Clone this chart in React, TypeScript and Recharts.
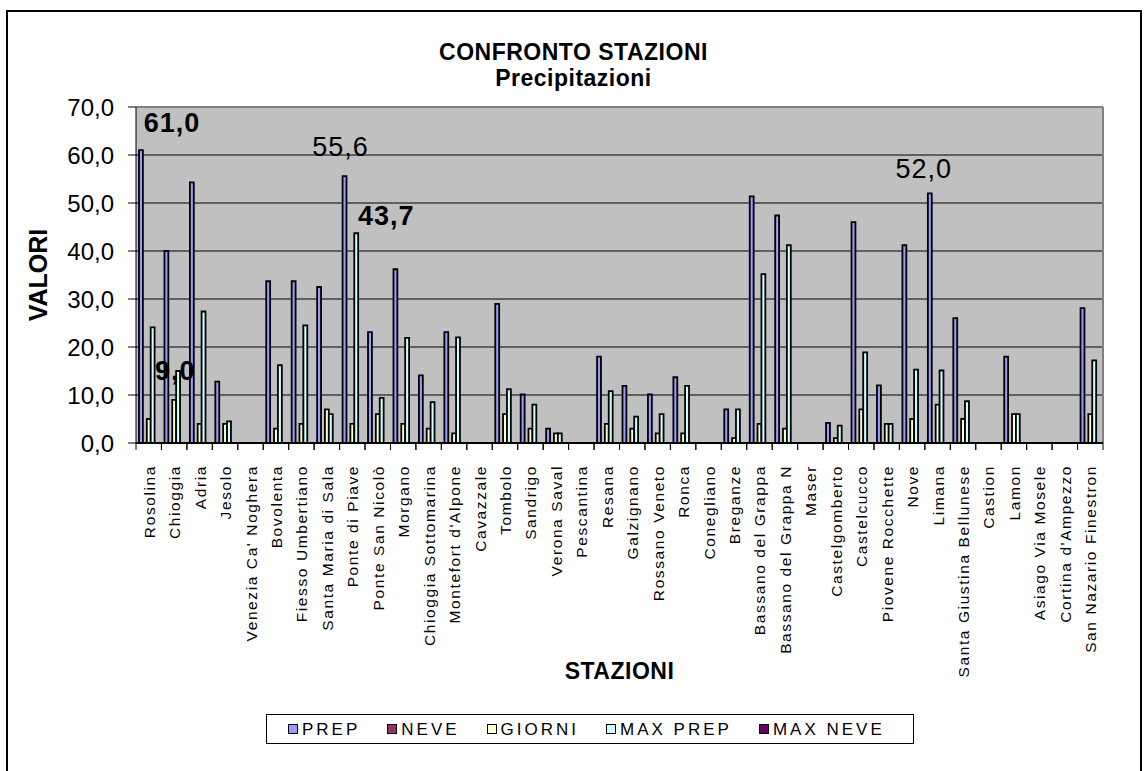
import {
  Bar,
  BarChart,
  CartesianGrid,
  Label,
  LabelList,
  Legend,
  ReferenceLine,
  XAxis,
  YAxis,
} from "recharts";

const stations = [
  "Rosolina",
  "Chioggia",
  "Adria",
  "Jesolo",
  "Venezia Ca' Noghera",
  "Bovolenta",
  "Fiesso Umbertiano",
  "Santa Maria di Sala",
  "Ponte di Piave",
  "Ponte San Nicolò",
  "Morgano",
  "Chioggia Sottomarina",
  "Montefort d'Alpone",
  "Cavazzale",
  "Tombolo",
  "Sandrigo",
  "Verona Saval",
  "Pescantina",
  "Resana",
  "Galzignano",
  "Rossano Veneto",
  "Ronca",
  "Conegliano",
  "Breganze",
  "Bassano del Grappa",
  "Bassano del Grappa N",
  "Maser",
  "Castelgomberto",
  "Castelcucco",
  "Piovene Rocchette",
  "Nove",
  "Limana",
  "Santa Giustina Bellunese",
  "Castion",
  "Lamon",
  "Asiago Via Mosele",
  "Cortina d'Ampezzo",
  "San Nazario Finestron",
];

const prep = [
  61.0, 40.0, 54.3, 12.8, 0, 33.7, 33.7, 32.5, 55.6, 23.1, 36.2, 14.1, 23.1, 0,
  29.0, 10.1, 3.0, 0, 18.0, 11.9, 10.1, 13.7, 0, 7.0, 51.4, 47.4, 0, 4.2, 46.0,
  12.0, 41.2, 52.0, 26.0, 0, 18.0, 0, 0, 28.1,
];
const neve = [
  0, 0, 0, 0, 0, 0, 0, 0, 0, 0, 0, 0, 0, 0, 0, 0, 0, 0, 0, 0, 0, 0, 0, 0, 0, 0,
  0, 0, 0, 0, 0, 0, 0, 0, 0, 0, 0, 0,
];
const giorni = [
  5, 9, 4, 4, 0, 3, 4, 7, 4, 6, 4, 3, 2, 0, 6, 3, 2, 0, 4, 3, 2, 2, 0, 1, 4, 3,
  0, 1, 7, 4, 5, 8, 5, 0, 6, 0, 0, 6,
];
const maxPrep = [
  24.1, 15.0, 27.4, 4.5, 0, 16.2, 24.5, 6.0, 43.7, 9.4, 21.9, 8.5, 22.0, 0, 11.2,
  8.0, 2.0, 0, 10.8, 5.5, 6.0, 11.9, 0, 7.0, 35.2, 41.2, 0, 3.6, 18.9, 4.0, 15.3,
  15.1, 8.7, 0, 6.0, 0, 0, 17.2,
];
const maxNeve = [
  0, 0, 0, 0, 0, 0, 0, 0, 0, 0, 0, 0, 0, 0, 0, 0, 0, 0, 0, 0, 0, 0, 0, 0, 0, 0,
  0, 0, 0, 0, 0, 0, 0, 0, 0, 0, 0, 0,
];
const yTicks = [0, 10, 20, 30, 40, 50, 60, 70];

const series = [
  { key: "PREP", values: prep, color: "#9999FF" },
  { key: "NEVE", values: neve, color: "#993366" },
  { key: "GIORNI", values: giorni, color: "#FFFFCC" },
  { key: "MAX PREP", values: maxPrep, color: "#CCFFFF" },
  { key: "MAX NEVE", values: maxNeve, color: "#660066" },
];

const data = stations.map((stazione, i) => {
  const row: Record<string, any> = { stazione };
  series.forEach((s) => {
    row[s.key] = s.values[i];
  });
  return row;
});

// highlighted values written above their bars
const callouts: Record<
  string,
  { station: string; bold: boolean; dx: number; gap: number }[]
> = {
  PREP: [
    { station: "Rosolina", bold: true, dx: 31, gap: 18 },
    { station: "Ponte di Piave", bold: false, dx: -4, gap: 20 },
    { station: "Limana", bold: false, dx: -6, gap: 15 },
  ],
  GIORNI: [{ station: "Chioggia", bold: true, dx: 1, gap: 20 }],
  "MAX PREP": [{ station: "Ponte di Piave", bold: true, dx: 30, gap: 8 }],
};

const FONT = "'Liberation Sans', Arial, sans-serif";
const WIDTH = 1145;
const HEIGHT = 771;
const MARGIN = { top: 107, right: 42, bottom: 100, left: 10 };
const Y_AXIS_WIDTH = 126;
const BAND =
  (WIDTH - MARGIN.left - MARGIN.right - Y_AXIS_WIDTH) / stations.length;

const fmt = (v: number) => v.toFixed(1).replace(".", ",");

const StationTick = (props: any) => {
  const { x, y, payload } = props;
  const half = BAND / 2;
  return (
    <g>
      <line x1={x - half} x2={x - half} y1={y} y2={y + 7} stroke="#000" />
      <line x1={x + half} x2={x + half} y1={y} y2={y + 7} stroke="#000" />
      <text
        transform={`translate(${x + 6},${y + 22}) rotate(-90)`}
        textAnchor="end"
        fontSize={15.5}
        letterSpacing={1.6}
        fontFamily={FONT}
        fill="#000"
      >
        {payload.value}
      </text>
    </g>
  );
};

// the LabelList reads the station name, the number comes from the series
const renderCallout = (key: string, values: number[]) => (props: any) => {
  const vb = props.viewBox ?? props;
  const idx = stations.indexOf(String(props.value));
  const c = (callouts[key] || []).find((item) => item.station === props.value);
  if (!c || idx < 0) return null;
  return (
    <text
      x={vb.x + vb.width / 2 + c.dx}
      y={vb.y - c.gap}
      textAnchor="middle"
      fontSize={27}
      fontWeight={c.bold ? 700 : 400}
      letterSpacing={1}
      fontFamily={FONT}
      fill="#000"
    >
      {fmt(values[idx])}
    </text>
  );
};

const LegendBox = () => (
  <div
    style={{
      border: "1px solid #000",
      background: "#fff",
      height: 30,
      boxSizing: "border-box",
      display: "flex",
      alignItems: "center",
      paddingLeft: 21,
      gap: 27,
      fontFamily: FONT,
    }}
  >
    {series.map((s) => (
      <div key={s.key} style={{ display: "flex", alignItems: "center" }}>
        <span
          style={{
            display: "inline-block",
            width: 8,
            height: 8,
            background: s.color,
            border: "1px solid #000",
            marginRight: 4,
          }}
        />
        <span style={{ fontSize: 17, letterSpacing: 3, lineHeight: "17px" }}>
          {s.key}
        </span>
      </div>
    ))}
  </div>
);

export default function App() {
  return (
    <div
      style={{
        position: "fixed",
        left: 0,
        top: 0,
        width: WIDTH,
        height: HEIGHT,
        overflow: "hidden",
        background: "#fff",
      }}
    >
      <div
        style={{
          position: "absolute",
          left: 6,
          top: 10,
          width: 1132,
          height: 820,
          border: "2px solid #000",
        }}
      />
      <div
        style={{
          position: "absolute",
          left: 0,
          width: 1147,
          top: 39,
          textAlign: "center",
          fontFamily: FONT,
          fontWeight: 700,
          fontSize: 23,
          lineHeight: "26px",
          letterSpacing: 0.5,
        }}
      >
        CONFRONTO STAZIONI
        <br />
        Precipitazioni
      </div>
      <div style={{ position: "absolute", left: 0, top: 0 }}>
        <BarChart
          width={WIDTH}
          height={HEIGHT}
          data={data}
          margin={MARGIN}
          barGap={0}
          barSize={3.9}
        >
          <CartesianGrid
            vertical={false}
            stroke="#000"
            fill="#C0C0C0"
            fillOpacity={1}
          />
          <XAxis
            dataKey="stazione"
            interval={0}
            height={228}
            tickSize={0}
            tickMargin={0}
            tickLine={false}
            axisLine={{ stroke: "#000", strokeWidth: 2 }}
            tick={<StationTick />}
          >
            <Label
              content={(p: any) => (
                <text
                  x={p.viewBox.x + p.viewBox.width / 2}
                  y={p.viewBox.y + 236}
                  textAnchor="middle"
                  fontSize={23}
                  fontWeight={700}
                  letterSpacing={0.5}
                  fontFamily={FONT}
                  fill="#000"
                >
                  STAZIONI
                </text>
              )}
            />
          </XAxis>
          <YAxis
            width={Y_AXIS_WIDTH}
            domain={[0, 70]}
            ticks={yTicks}
            interval={0}
            tickFormatter={fmt}
            tickSize={8}
            tickMargin={14}
            axisLine={{ stroke: "#000" }}
            tickLine={{ stroke: "#000" }}
            tick={{ fontSize: 24, fill: "#000", fontFamily: FONT }}
          >
            <Label
              content={(p: any) => {
                const cx = p.viewBox.x + 28;
                const cy = p.viewBox.y + p.viewBox.height / 2;
                return (
                  <text
                    x={cx}
                    y={cy}
                    transform={`rotate(-90, ${cx}, ${cy})`}
                    textAnchor="middle"
                    dominantBaseline="central"
                    fontSize={25}
                    fontWeight={700}
                    fontFamily={FONT}
                    fill="#000"
                  >
                    VALORI
                  </text>
                );
              }}
            />
          </YAxis>
          <ReferenceLine y={70} stroke="#808080" strokeWidth={2} />
          <ReferenceLine
            x={stations[stations.length - 1]}
            position="end"
            stroke="#808080"
            strokeWidth={2}
          />
          {series.map((s) => (
            <Bar
              key={s.key}
              dataKey={s.key}
              fill={s.color}
              stroke="#000"
              strokeWidth={1.8}
              isAnimationActive={false}
            >
              <LabelList
                dataKey="stazione"
                content={renderCallout(s.key, s.values)}
              />
            </Bar>
          ))}
          <Legend
            layout="horizontal"
            verticalAlign="middle"
            align="center"
            content={<LegendBox />}
            wrapperStyle={{ left: 266, top: 714, width: 648 }}
          />
        </BarChart>
      </div>
    </div>
  );
}
